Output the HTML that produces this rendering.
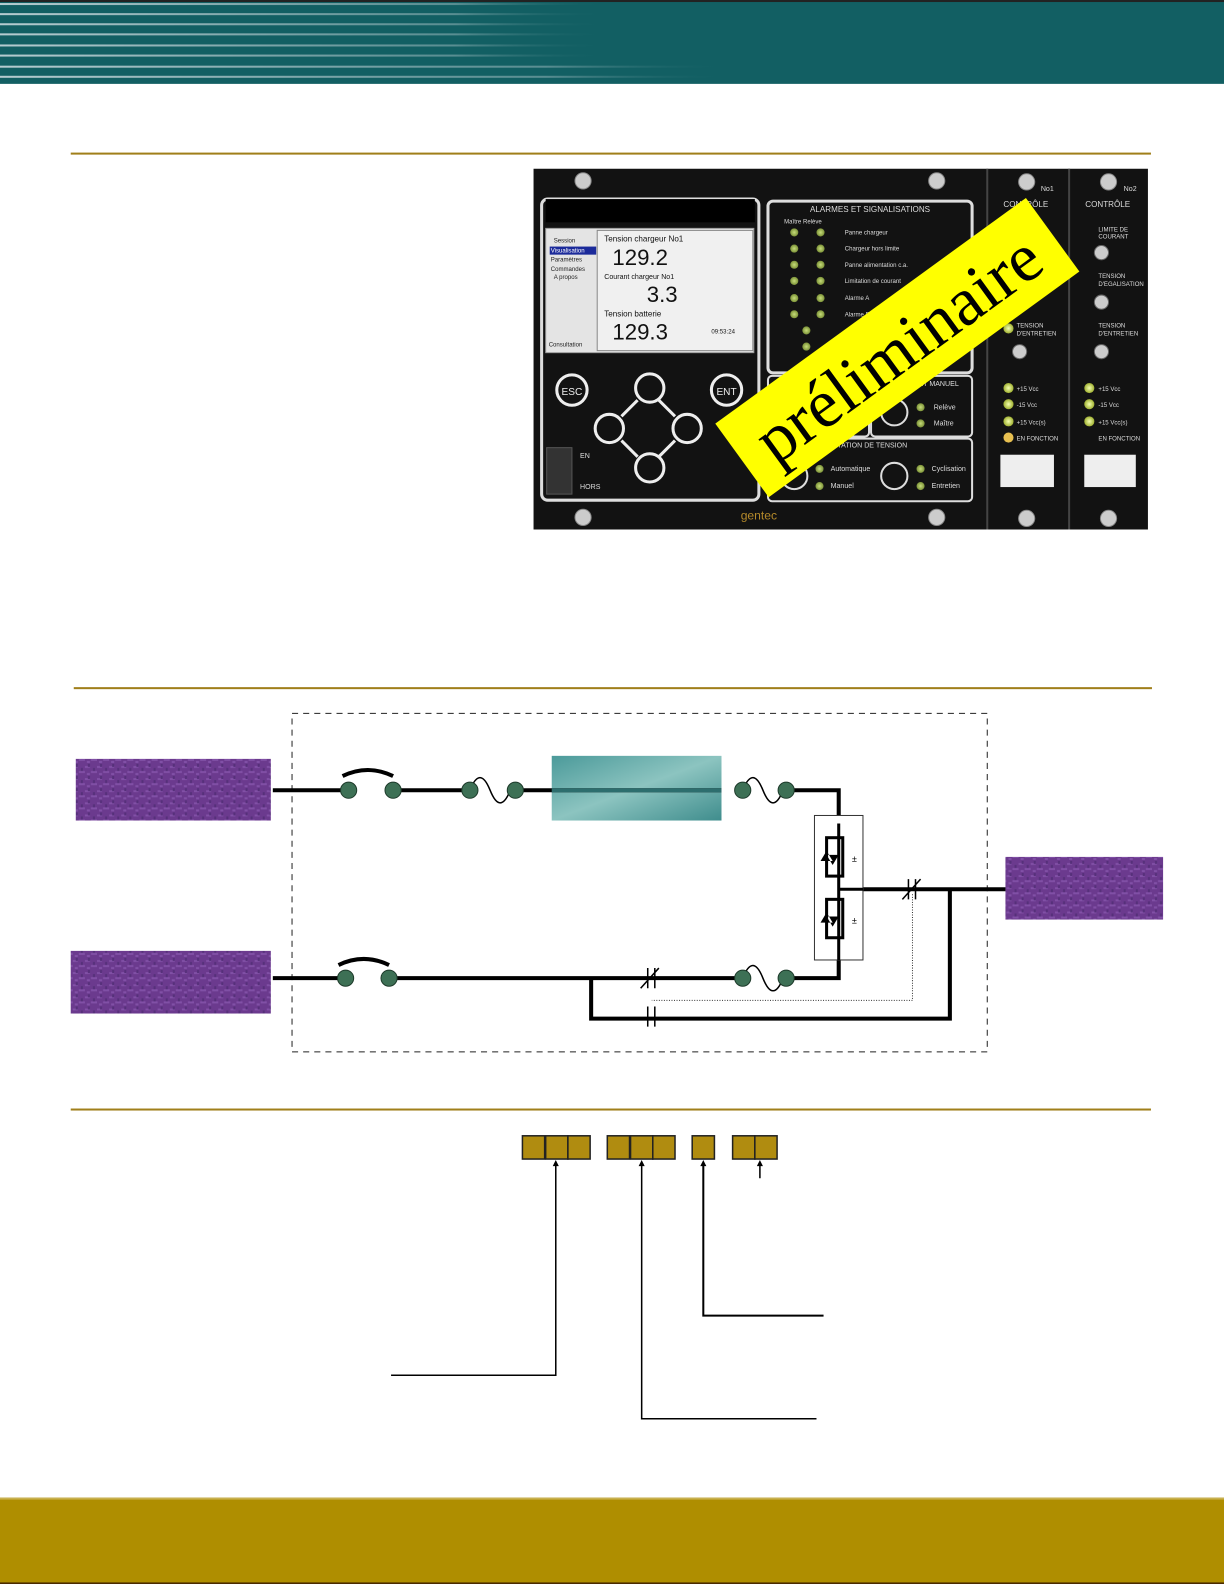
<!DOCTYPE html>
<html><head><meta charset="utf-8"><style>
html,body{margin:0;padding:0;background:#fff;}
svg{display:block;}
</style></head><body>
<svg width="1224" height="1584" viewBox="0 0 1224 1584" xmlns="http://www.w3.org/2000/svg" font-family="Liberation Sans, sans-serif">
<defs>
<linearGradient id="hl" x1="0" x2="1"><stop offset="0" stop-color="#c8d8dc" stop-opacity="0.9"/><stop offset="0.45" stop-color="#9fbcc0" stop-opacity="0.5"/><stop offset="0.6" stop-color="#125f63" stop-opacity="0"/></linearGradient>
<radialGradient id="led"><stop offset="0" stop-color="#f4ffb0"/><stop offset="1" stop-color="#9fb030"/></radialGradient>
<radialGradient id="gled"><stop offset="0" stop-color="#c7dd7a"/><stop offset="1" stop-color="#7c9238"/></radialGradient>
<pattern id="purp" width="12" height="12" patternUnits="userSpaceOnUse"><rect width="12" height="12" fill="#6b3a8e"/><path d="M0 3h5M6 8h6M2 10h3" stroke="#8150a6" stroke-width="2"/><path d="M4 0v3M9 4v3" stroke="#56307a" stroke-width="2"/></pattern>
<linearGradient id="teal" x1="0" y1="0" x2="1" y2="1"><stop offset="0" stop-color="#4b9a9a"/><stop offset="0.5" stop-color="#8cc4c0"/><stop offset="1" stop-color="#3f8d8d"/></linearGradient>
</defs>
<rect width="1224" height="1584" fill="#fff"/>
<g transform="scale(1.0105)">
<rect x="0" y="0" width="1212" height="83" fill="#125f63"/>
<rect x="0" y="0" width="1212" height="2" fill="#222"/>
<g fill="url(#hl)">
<rect x="0" y="3" width="1000" height="2"/><rect x="0" y="13" width="1000" height="2"/><rect x="0" y="23" width="1000" height="2"/><rect x="0" y="33" width="1000" height="2"/><rect x="0" y="44" width="1000" height="2"/><rect x="0" y="54" width="1000" height="2"/><rect x="0" y="65" width="1200" height="2"/><rect x="0" y="75" width="1200" height="2"/>
</g>
<rect x="70" y="151" width="1069" height="2" fill="#a07f1a"/>
<rect x="73" y="680" width="1067" height="2" fill="#a07f1a"/>
<rect x="70" y="1097" width="1069" height="2" fill="#a07f1a"/>

<rect x="528" y="167" width="608" height="357" fill="#121212"/>
<g fill="#ccc" stroke="#888"><circle cx="577" cy="179" r="8"/><circle cx="927" cy="179" r="8"/><circle cx="577" cy="512" r="8"/><circle cx="927" cy="512" r="8"/><circle cx="1016" cy="180" r="8"/><circle cx="1097" cy="180" r="8"/><circle cx="1016" cy="513" r="8"/><circle cx="1097" cy="513" r="8"/></g>
<rect x="536" y="197" width="215" height="298" rx="6" fill="none" stroke="#ddd" stroke-width="3"/>
<rect x="540" y="197" width="207" height="23" fill="#000"/>
<rect x="540" y="226" width="206" height="123" fill="#e4e4e4" stroke="#999"/>
<rect x="591" y="228" width="154" height="119" fill="#f0f0f0" stroke="#888"/>
<rect x="544" y="244" width="46" height="8" fill="#1b2a9a"/>
<g font-size="6" fill="#222"><text x="548" y="240">Session</text><text x="545" y="250" fill="#fff">Visualisation</text><text x="545" y="259">Paramètres</text><text x="545" y="268">Commandes</text><text x="548" y="276">A propos</text><text x="543" y="343">Consultation</text></g>
<g fill="#111"><text x="598" y="239" font-size="8">Tension chargeur No1</text><text x="606" y="262" font-size="22">129.2</text><text x="598" y="276" font-size="7">Courant chargeur No1</text><text x="640" y="299" font-size="22">3.3</text><text x="598" y="313" font-size="8">Tension batterie</text><text x="606" y="336" font-size="22">129.3</text><text x="704" y="330" font-size="6">09:53:24</text></g>
<g fill="none" stroke="#eee" stroke-width="3"><circle cx="566" cy="386" r="15"/><circle cx="719" cy="386" r="15"/><circle cx="643" cy="384" r="14"/><circle cx="643" cy="463" r="14"/><circle cx="603" cy="424" r="14"/><circle cx="680" cy="424" r="14"/><path d="M652 396 L668 412 M631 396 L615 412 M615 436 L631 452 M668 436 L652 452"/></g>
<g fill="#eee" font-size="10" text-anchor="middle"><text x="566" y="391">ESC</text><text x="719" y="391">ENT</text></g>
<rect x="541" y="443" width="25" height="46" fill="#333" stroke="#555"/>
<g fill="#ddd" font-size="7"><text x="574" y="453">EN</text><text x="574" y="484">HORS</text></g>
<rect x="760" y="199" width="202" height="170" rx="5" fill="none" stroke="#ddd" stroke-width="3"/>
<text x="861" y="210" fill="#ddd" font-size="8" text-anchor="middle">ALARMES ET SIGNALISATIONS</text>
<g fill="#ddd" font-size="6"><text x="776" y="221">Maître Relève</text><text x="836" y="232">Panne chargeur</text><text x="836" y="248">Chargeur hors limite</text><text x="836" y="264">Panne alimentation c.a.</text><text x="836" y="280">Limitation de courant</text><text x="836" y="297">Alarme A</text><text x="836" y="313">Alarme B</text></g>
<g fill="url(#gled)"><circle cx="786" cy="230" r="4"/><circle cx="812" cy="230" r="4"/><circle cx="786" cy="246" r="4"/><circle cx="812" cy="246" r="4"/><circle cx="786" cy="262" r="4"/><circle cx="812" cy="262" r="4"/><circle cx="786" cy="278" r="4"/><circle cx="812" cy="278" r="4"/><circle cx="786" cy="295" r="4"/><circle cx="812" cy="295" r="4"/><circle cx="786" cy="311" r="4"/><circle cx="812" cy="311" r="4"/><circle cx="798" cy="327" r="4"/><circle cx="798" cy="343" r="4"/></g>
<rect x="760" y="372" width="100" height="60" rx="4" fill="none" stroke="#ddd" stroke-width="2"/>
<rect x="862" y="372" width="100" height="60" rx="4" fill="none" stroke="#ddd" stroke-width="2"/>
<rect x="760" y="434" width="202" height="62" rx="4" fill="none" stroke="#ddd" stroke-width="2"/>
<g fill="none" stroke="#ddd" stroke-width="2"><circle cx="885" cy="408" r="13"/><circle cx="786" cy="471" r="13"/><circle cx="885" cy="471" r="13"/></g>
<g fill="#ddd" font-size="7"><text x="904" y="382">ERT MANUEL</text><text x="924" y="405">Relève</text><text x="924" y="421">Maître</text><text x="812" y="443">MMUTATION DE TENSION</text><text x="822" y="466">Automatique</text><text x="822" y="483">Manuel</text><text x="922" y="466">Cyclisation</text><text x="922" y="483">Entretien</text></g>
<g fill="url(#gled)"><circle cx="911" cy="403" r="4"/><circle cx="911" cy="419" r="4"/><circle cx="811" cy="464" r="4"/><circle cx="811" cy="481" r="4"/><circle cx="911" cy="464" r="4"/><circle cx="911" cy="481" r="4"/></g>
<text x="733" y="514" fill="#b58a2a" font-size="12">gentec</text>
<rect x="976" y="167" width="2" height="357" fill="#444"/><rect x="1057" y="167" width="2" height="357" fill="#444"/>
<g fill="#ddd" font-size="8"><text x="993" y="205">CONTRÔLE</text><text x="1074" y="205">CONTRÔLE</text><text x="1030" y="189" font-size="7">No1</text><text x="1112" y="189" font-size="7">No2</text></g>
<g fill="#ddd" font-size="6"><text x="1087" y="229">LIMITE DE</text><text x="1087" y="236">COURANT</text><text x="1087" y="275">TENSION</text><text x="1087" y="283">D'EGALISATION</text><text x="1006" y="324">TENSION</text><text x="1006" y="332">D'ENTRETIEN</text><text x="1087" y="324">TENSION</text><text x="1087" y="332">D'ENTRETIEN</text><text x="1006" y="387">+15 Vcc</text><text x="1006" y="403">-15 Vcc</text><text x="1006" y="420">+15 Vcc(s)</text><text x="1006" y="436">EN FONCTION</text><text x="1087" y="387">+15 Vcc</text><text x="1087" y="403">-15 Vcc</text><text x="1087" y="420">+15 Vcc(s)</text><text x="1087" y="436">EN FONCTION</text></g>
<g fill="url(#led)"><circle cx="998" cy="384" r="5"/><circle cx="998" cy="400" r="5"/><circle cx="998" cy="417" r="5"/><circle cx="998" cy="433" r="5" fill="#e8c050"/><circle cx="1078" cy="384" r="5"/><circle cx="1078" cy="400" r="5"/><circle cx="1078" cy="417" r="5"/><circle cx="998" cy="325" r="5"/></g>
<g fill="#ccc" stroke="#666"><circle cx="1009" cy="348" r="7"/><circle cx="1090" cy="348" r="7"/><circle cx="1090" cy="299" r="7"/><circle cx="1090" cy="250" r="7"/></g>
<rect x="990" y="450" width="53" height="32" fill="#eee"/><rect x="1073" y="450" width="51" height="32" fill="#eee"/>
<g transform="translate(888 344) rotate(-36)">
<rect x="-190" y="-45" width="380" height="90" fill="#ffff00"/>
<text x="0" y="24" font-family="Liberation Serif, serif" font-size="68" text-anchor="middle" fill="#000">préliminaire</text>
</g>

<rect x="289" y="706" width="688" height="335" fill="none" stroke="#222" stroke-dasharray="6,5" stroke-width="1"/>
<rect x="75" y="751" width="193" height="61" fill="url(#purp)"/>
<rect x="70" y="941" width="198" height="62" fill="url(#purp)"/>
<rect x="995" y="848" width="156" height="62" fill="url(#purp)"/>
<rect x="546" y="748" width="168" height="64" fill="url(#teal)"/>
<g stroke="#000" stroke-width="4" fill="none">
<path d="M270 782H345M389 782H465M510 782H714"/>
<path d="M778 782H830V808"/>
<path d="M270 968H342M385 968H735M778 968H830V950"/>
<path d="M830 880H995"/>
<path d="M585 968V1008H940V880"/>
</g>
<path d="M546 782H714" stroke="#2d6e6e" stroke-width="4"/>
<rect x="806" y="807" width="48" height="143" fill="#fff" stroke="#333"/>
<g stroke="#000" fill="none" stroke-width="3">
<path d="M830 815V950M830 880H854"/>
<rect x="818" y="829" width="16" height="38"/>
<rect x="818" y="890" width="16" height="38"/>
</g>
<g fill="#000"><path d="M812 852l6-10 6 10z M818 846l6 10 6-10z"/><path d="M812 913l6-10 6 10z M818 907l6 10 6-10z"/></g>
<g fill="#000" font-size="9"><text x="843" y="853">±</text><text x="843" y="914">±</text></g>
<g stroke="#000" fill="none" stroke-width="1.5">
<path d="M339 768q25 -12 50 0" stroke-width="4"/>
<path d="M335 955q25 -12 50 0" stroke-width="4"/>
<path d="M465 782q10 -25 20 0t20 0"/>
<path d="M735 782q10 -25 20 0t20 0"/>
<path d="M735 968q10 -25 20 0t20 0"/>
<path d="M641 958v20M648 958v20M634 978l18-20"/>
<path d="M641 996v20M648 996v20"/>
<path d="M899 870v20M906 870v20M893 890l18-20"/>
</g>
<path d="M903 885V990H645" stroke="#333" stroke-width="1" stroke-dasharray="1,1.5" fill="none"/>
<g fill="#3d7055" stroke="#1d3a2a"><ellipse cx="345" cy="782" rx="8" ry="8"/><ellipse cx="389" cy="782" rx="8" ry="8"/><ellipse cx="465" cy="782" rx="8" ry="8"/><ellipse cx="510" cy="782" rx="8" ry="8"/><ellipse cx="735" cy="782" rx="8" ry="8"/><ellipse cx="778" cy="782" rx="8" ry="8"/><ellipse cx="342" cy="968" rx="8" ry="8"/><ellipse cx="385" cy="968" rx="8" ry="8"/><ellipse cx="735" cy="968" rx="8" ry="8"/><ellipse cx="778" cy="968" rx="8" ry="8"/></g>

<g fill="#b08c10" stroke="#222" stroke-width="1.5">
<rect x="517" y="1124" width="22" height="23"/><rect x="540" y="1124" width="22" height="23"/><rect x="562" y="1124" width="22" height="23"/>
<rect x="601" y="1124" width="22" height="23"/><rect x="624" y="1124" width="22" height="23"/><rect x="646" y="1124" width="22" height="23"/>
<rect x="685" y="1124" width="22" height="23"/>
<rect x="725" y="1124" width="22" height="23"/><rect x="747" y="1124" width="22" height="23"/>
</g>
<g stroke="#000" stroke-width="1.5" fill="none">
<path d="M550 1152V1361H387"/><path d="M635 1152V1404H808"/><path d="M696 1152V1302H815" stroke-width="2"/><path d="M752 1152V1166"/>
</g>
<g fill="#000"><path d="M550 1148l-3 6h6z"/><path d="M635 1148l-3 6h6z"/><path d="M696 1148l-3 6h6z"/><path d="M752 1148l-3 6h6z"/></g>

<rect x="0" y="1482" width="1212" height="85" fill="#af8e00"/>
<rect x="0" y="1482" width="1212" height="2" fill="#c8b050"/>
<rect x="0" y="1566" width="1212" height="2" fill="#4a2a00"/>
</g>
</svg>
</body></html>
